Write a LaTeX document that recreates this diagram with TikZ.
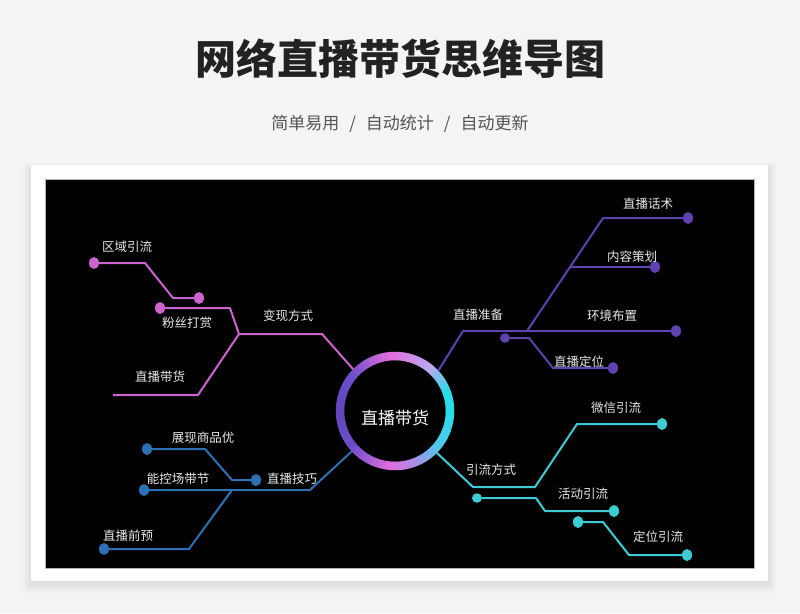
\documentclass[tikz,border=0pt]{standalone}
\usepackage{fontspec}
\setmainfont{Noto Sans CJK SC}
\usetikzlibrary{shapes.geometric}
\definecolor{bgc}{HTML}{F3F4F6}
\definecolor{titlec}{HTML}{222222}
\definecolor{subc}{HTML}{555555}
\definecolor{labc}{HTML}{E8E8E8}
\definecolor{pinkc}{RGB}{205,100,205}
\definecolor{bluec}{RGB}{44,112,182}
\definecolor{purc}{RGB}{95,65,175}
\definecolor{cyanc}{RGB}{60,205,212}
\definecolor{rcyan}{RGB}{40,222,232}
\definecolor{rcyan2}{RGB}{80,200,236}
\definecolor{rlav}{RGB}{175,140,232}
\definecolor{rpink}{RGB}{226,110,222}
\definecolor{rpur}{RGB}{108,78,200}
\definecolor{rpur2}{RGB}{98,70,190}
\definecolor{rlav2}{RGB}{185,170,238}
\tikzset{
  lbl/.style={text=labc, font=\fontsize{12.5}{14}\selectfont, inner sep=0pt},
  dotn/.style={ellipse, minimum width=10pt, minimum height=12pt, inner sep=0pt, fill=#1},
  sdotn/.style={ellipse, minimum width=10pt, minimum height=9.5pt, inner sep=0pt, fill=#1},
  br/.style={draw=#1, line width=2pt, line join=round}
}
\begin{document}
\begin{tikzpicture}[x=1pt,y=-1pt]
\useasboundingbox (0,0) rectangle (800,613);
\fill[bgc] (0,0) rectangle (800,613);
% title
\node[text=titlec, font=\fontsize{41}{46}\selectfont\bfseries, inner sep=0pt] (title) at (400,59) {网络直播带货思维导图};
\node[text=subc, font=\fontsize{17}{20}\selectfont, inner sep=0pt] (sub) at (400,124) {简单易用\hspace{10pt}/\hspace{10pt}自动统计\hspace{10pt}/\hspace{10pt}自动更新};
% card shadow
\foreach \i in {1,...,10} {
  \fill[black, opacity=0.007] (31-\i*0.8, 168-\i*0.5) rectangle (768+\i*0.8, 584+\i*0.9);
}
\fill[white] (31,165) rectangle (768,581);
\filldraw[fill=black, draw=gray!60, line width=0.6pt] (45,179) rectangle (754,568);
% hub
\node[circle, minimum size=118pt, inner sep=0pt] (hub) at (395,411) {};
\foreach \a/\b/\ca/\cb in {0/40/rcyan/rcyan2, 40/70/rcyan2/rlav, 70/95/rlav/rpink, 95/140/rpink/rpur, 140/180/rpur/rpur2, 180/220/rpur2/rpur, 220/265/rpur/rpink, 265/310/rpink/rlav2, 310/340/rlav2/rcyan, 340/360/rcyan/rcyan} {
  \foreach \k in {0,...,9} {
    \pgfmathsetmacro\s{\a+(\b-\a)*\k/10}
    \pgfmathsetmacro\e{\a+(\b-\a)*(\k+1)/10+0.7}
    \pgfmathtruncatemacro\p{95-\k*10}
    \draw[line width=8.5pt, color=\ca!\p!\cb] (395,411) ++(\s:55) arc[start angle=\s, end angle=\e, radius=55];
  }
}
\node[text=white, font=\fontsize{17}{20}\selectfont, inner sep=0pt] (hubt) at (395,418) {直播带货};
% ---------- pink branch ----------
\node[dotn=pinkc] (p1) at (94,263) {};
\coordinate (p1a) at (145,263);
\coordinate (p1b) at (173,298);
\node[dotn=pinkc] (p1e) at (199,298) {};
\draw[br=pinkc] (p1) -- (p1a) -- (p1b) -- (p1e);
\node[dotn=pinkc] (p2) at (160,308) {};
\coordinate (p2a) at (230,308);
\coordinate (pj) at (239,334);
\coordinate (pm) at (322,334);
\draw[br=pinkc] (p2) -- (p2a) -- (pj);
\draw[br=pinkc] (pj) -- (pm) -- (hub.135);
\coordinate (p3a) at (198,395);
\coordinate (p3e) at (113,395);
\draw[br=pinkc] (pj) -- (p3a) -- (p3e);
\node[lbl] (lp1) at (127,247) {区域引流};
\node[lbl] (lp2) at (187,323) {粉丝打赏};
\node[lbl] (lp0) at (288,316) {变现方式};
\node[lbl] (lp3) at (160,377) {直播带货};
% ---------- blue branch ----------
\node[dotn=bluec] (b1) at (147,449) {};
\coordinate (b1a) at (205,449);
\coordinate (b1b) at (232,480);
\node[dotn=bluec] (b1e) at (256,480) {};
\draw[br=bluec] (b1) -- (b1a) -- (b1b) -- (b1e);
\node[dotn=bluec] (b2) at (144,490) {};
\coordinate (bj) at (232,490);
\coordinate (bm) at (310,490);
\draw[br=bluec] (b2) -- (bj) -- (bm) -- (hub.223);
\coordinate (b3a) at (189,549);
\node[dotn=bluec] (b3) at (104,549) {};
\draw[br=bluec] (bj) -- (b3a) -- (b3);
\node[lbl] (lb1) at (203,438) {展现商品优};
\node[lbl] (lb0) at (292,479) {直播技巧};
\node[lbl] (lb2) at (178,479) {能控场带节};
\node[lbl] (lb3) at (128,536) {直播前预};
% ---------- purple branch ----------
\node[dotn=purc] (u1) at (688,218) {};
\coordinate (u1a) at (603,218);
\coordinate (uj) at (527,331);
\draw[br=purc] (u1) -- (u1a) -- (uj);
\coordinate (u2a) at (570,267);
\node[dotn=purc] (u2) at (655,267) {};
\draw[br=purc] (u2a) -- (u2);
\coordinate (um) at (463,331);
\node[dotn=purc] (u3) at (676,331) {};
\draw[br=purc] (hub.43) -- (um) -- (u3);
\node[sdotn=purc] (u4) at (505,338) {};
\coordinate (u4a) at (529,338);
\coordinate (u4b) at (553,368);
\node[dotn=purc] (u4e) at (613,368) {};
\draw[br=purc] (u4) -- (u4a) -- (u4b) -- (u4e);
\node[lbl] (lu1) at (648,204) {直播话术};
\node[lbl] (lu2) at (632,257) {内容策划};
\node[lbl] (lu3) at (612,316) {环境布置};
\node[lbl] (lu0) at (478,315) {直播准备};
\node[lbl] (lu4) at (579,362) {直播定位};
% ---------- cyan branch ----------
\node[dotn=cyanc] (c1) at (662,424) {};
\coordinate (c1a) at (577,424);
\coordinate (c1b) at (535,487);
\coordinate (c1c) at (473,487);
\draw[br=cyanc] (c1) -- (c1a) -- (c1b) -- (c1c) -- (hub.-45);
\node[sdotn=cyanc] (c2) at (477,498) {};
\coordinate (c2a) at (536,498);
\coordinate (c2b) at (545,511);
\node[dotn=cyanc] (c2e) at (614,511) {};
\draw[br=cyanc] (c2) -- (c2a) -- (c2b) -- (c2e);
\node[dotn=cyanc] (c3) at (578,522) {};
\coordinate (c3a) at (603,522);
\coordinate (c3b) at (629,555);
\node[dotn=cyanc] (c3e) at (687,555) {};
\draw[br=cyanc] (c3) -- (c3a) -- (c3b) -- (c3e);
\node[lbl] (lc1) at (616,408) {微信引流};
\node[lbl] (lc0) at (491,470) {引流方式};
\node[lbl] (lc2) at (583,494) {活动引流};
\node[lbl] (lc3) at (658,537) {定位引流};
\end{tikzpicture}
\end{document}
